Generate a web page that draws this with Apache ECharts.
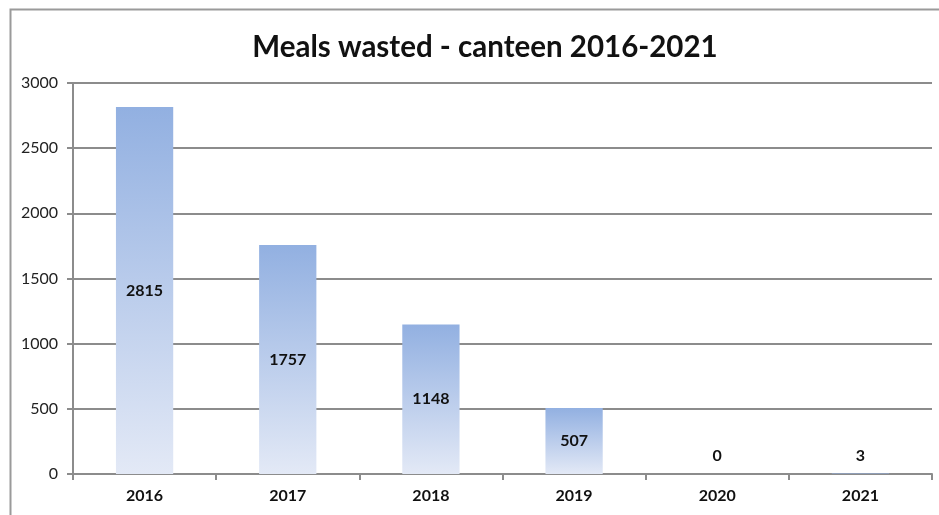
<!DOCTYPE html>
<html>
<head>
<meta charset="utf-8">
<title>Meals wasted - canteen 2016-2021</title>
<script src="https://cdn.jsdelivr.net/npm/echarts@6/dist/echarts.min.js"></script>
<style>
  html, body { margin: 0; padding: 0; background: #ffffff; }
  #chart { width: 939px; height: 515px; }
</style>
</head>
<body>
<div id="chart"></div>
<script>
// Yearly canteen waste figures
const years = ['2016', '2017', '2018', '2019', '2020', '2021'];
const mealsWasted = [2815, 1757, 1148, 507, 0, 3];
const yTicks = { min: 0, max: 3000, interval: 500 };

const chart = echarts.init(document.getElementById('chart'), null, { renderer: 'canvas' });

const fontFamily = 'Lato, "Open Sans", "Liberation Sans", sans-serif';

// Bars whose value is too small to hold a label get it just above the axis
const barData = mealsWasted.map(v => {
  const item = { value: v };
  if (v < 100) {
    item.label = { position: 'insideBottom', distance: 10 };
  }
  return item;
});

chart.setOption({
  animation: false,
  backgroundColor: '#ffffff',
  graphic: [{
    type: 'rect',
    left: 8, top: 7,
    shape: { width: 1000, height: 600 },
    style: { fill: 'none', stroke: '#9a9a9a', lineWidth: 2 },
    silent: true,
    z: 0
  }],
  title: {
    text: 'Meals wasted - canteen 2016-2021',
    left: 480,
    textAlign: 'center',
    top: 27,
    textStyle: {
      fontFamily: fontFamily,
      fontSize: 29.5,
      fontWeight: 'bold',
      color: '#111111'
    }
  },
  grid: { left: 73, right: 7, top: 83, bottom: 41, containLabel: false },
  xAxis: {
    type: 'category',
    data: years,
    axisLine: { lineStyle: { color: '#8c8c8c', width: 2 } },
    axisTick: { show: true, alignWithLabel: false, length: 6, lineStyle: { color: '#8c8c8c', width: 2 } },
    axisLabel: {
      margin: 14,
      fontFamily: fontFamily,
      fontSize: 16,
      fontWeight: 'bold',
      color: '#111111'
    }
  },
  yAxis: {
    type: 'value',
    min: yTicks.min,
    max: yTicks.max,
    interval: yTicks.interval,
    axisLine: { show: true, lineStyle: { color: '#8c8c8c', width: 2 } },
    axisTick: { show: true, length: 6, lineStyle: { color: '#8c8c8c', width: 2 } },
    splitLine: { show: true, lineStyle: { color: '#8c8c8c', width: 2 } },
    axisLabel: {
      margin: 15,
      fontFamily: fontFamily,
      fontSize: 16,
      color: '#222222',
      formatter: v => String(v)
    }
  },
  series: [{
    type: 'bar',
    data: barData,
    barWidth: '40%',
    itemStyle: {
      color: new echarts.graphic.LinearGradient(0, 0, 0, 1, [
        { offset: 0, color: '#92b0e1' },
        { offset: 1, color: '#e3e9f6' }
      ])
    },
    label: {
      show: true,
      position: 'inside',
      fontFamily: fontFamily,
      fontSize: 16,
      fontWeight: 'bold',
      color: '#111111'
    }
  }]
});
</script>
</body>
</html>
